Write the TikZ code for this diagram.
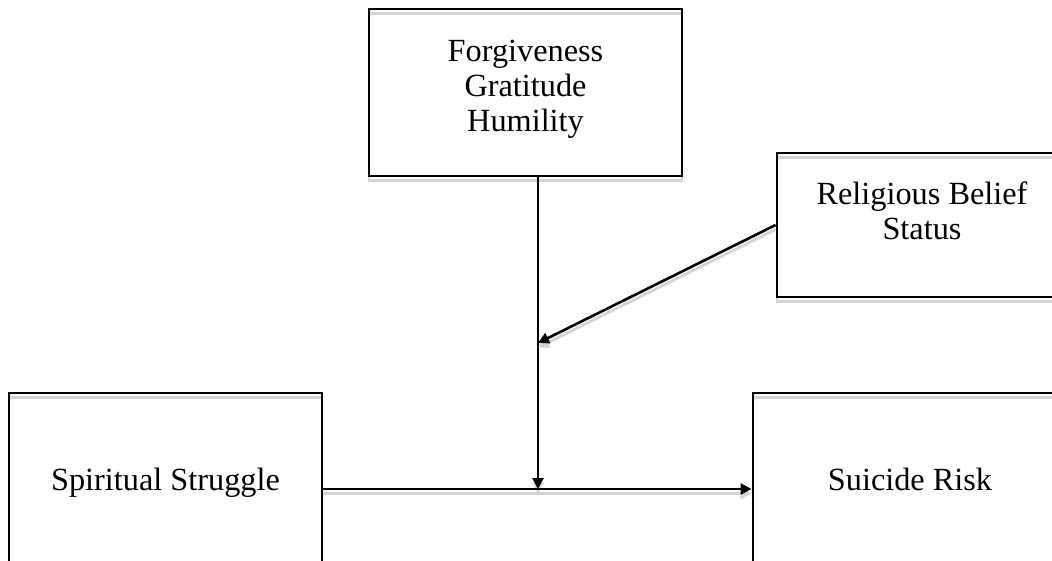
\documentclass[tikz,border=0pt]{standalone}
\usepackage{fontspec}
\setmainfont{Liberation Serif}
\usetikzlibrary{arrows.meta}
\begin{document}
\begin{tikzpicture}[x=1pt,y=-1pt,
  shad/.style={preaction={draw=black!17, line width=2.8pt, transform canvas={yshift=-4.5pt}}},
  boxx/.style={draw, line width=2.8pt, shad, rectangle, inner sep=0pt},
  lbl/.style={font=\fontsize{32.3}{35}\selectfont, align=center, inner sep=0pt},
  conn/.style={line width=2.6pt, shad, -{Triangle[length=11pt,width=11pt]}}]
\clip (0,0) rectangle (1052,560);
\fill[white] (0,0) rectangle (1052,560);
% boxes
\node[boxx, minimum width=313pt, minimum height=167pt] (fgh) at (525.5,92.5) {};
\node[boxx, minimum width=290pt, minimum height=144pt] (rel) at (922,225) {};
\node[boxx, minimum width=313pt, minimum height=200pt] (ss) at (165.5,493) {};
\node[boxx, minimum width=314pt, minimum height=200pt] (sr) at (910,493) {};
% texts
\node[lbl] (fght) at (525.5,89.5) {Forgiveness\\Gratitude\\Humility};
\node[lbl] (relt) at (922,211) {Religious Belief\\Status};
\node[lbl, anchor=base] (sst) at (165.5,490) {Spiritual Struggle};
\node[lbl, anchor=base] (srt) at (910,490) {Suicide Risk};
% junctions
\coordinate (j) at (538,489);
\coordinate (m) at (538,343);
% connectors
\draw[conn] (fgh.south -| j) -- (j);
\draw[conn] (rel.west) -- (m);
\draw[conn] (ss.east |- j) -- (sr.west |- j);
\end{tikzpicture}
\end{document}
